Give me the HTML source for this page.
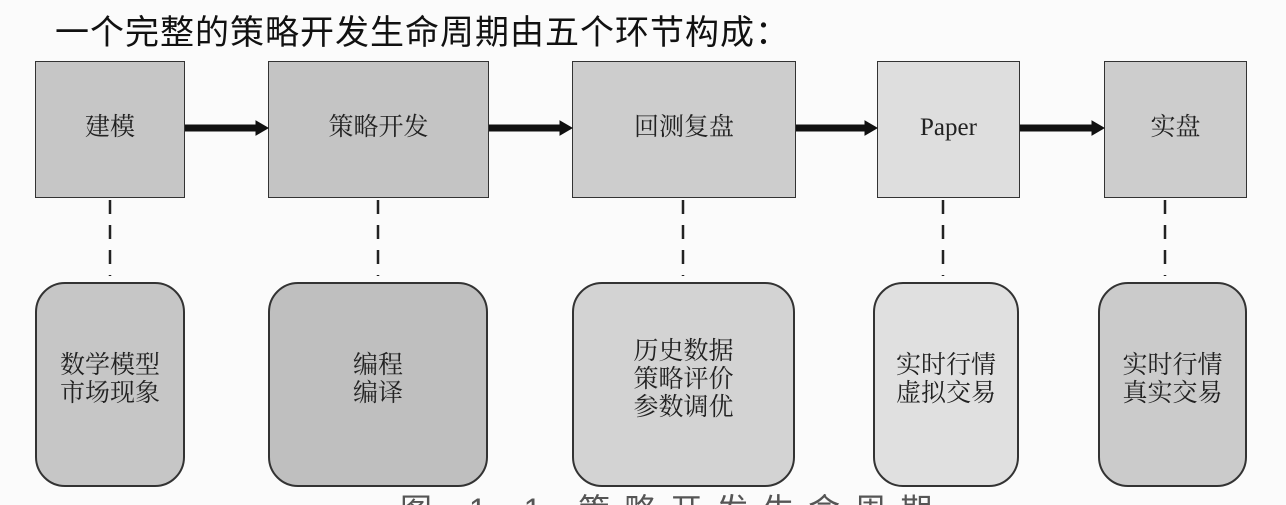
<!DOCTYPE html>
<html style="margin:0;width:1286px;height:505px;overflow:hidden"><head><meta charset="utf-8"><style>
body{margin:0;width:1286px;height:505px;background:#fbfbfb;position:relative;overflow:hidden;font-family:"Liberation Serif","Noto Serif CJK SC",serif;}
.t{position:absolute;left:55px;top:5px;font-family:"Liberation Sans","Noto Sans CJK SC",sans-serif;font-size:34px;color:#111;letter-spacing:1px;font-weight:400}
.b{position:absolute;border:1.5px solid #333;box-sizing:border-box;display:flex;align-items:center;justify-content:center;font-size:25px;color:#222;text-align:center;line-height:28px}
.top{top:61px;height:137px;padding-bottom:4px}
.r{top:282px;height:205px;border-radius:30px;border-width:2px}
.cap{position:absolute;left:400px;top:494px;height:11px;overflow:hidden;font-size:32px;line-height:32px;color:#555;font-family:"Liberation Sans","Noto Sans CJK SC",sans-serif;letter-spacing:14px;white-space:nowrap}
</style></head><body>
<div class="t">一个完整的策略开发生命周期由五个环节构成：</div>
<div class="b top" style="left:35px;width:150px;background:#c6c6c6">建模</div>
<div class="b top" style="left:268px;width:221px;background:#c4c4c4">策略开发</div>
<div class="b top" style="left:572px;width:224px;background:#cdcdcd">回测复盘</div>
<div class="b top" style="left:877px;width:143px;background:#dedede">Paper</div>
<div class="b top" style="left:1104px;width:143px;background:#cdcdcd">实盘</div>
<svg style="position:absolute;left:0;top:0" width="1286" height="505">
<g fill="#111" stroke="#111">
<line x1="185" y1="128" x2="258" y2="128" stroke-width="7"/><polygon points="256,121 268,128 256,135" />
<line x1="489" y1="128" x2="562" y2="128" stroke-width="7"/><polygon points="560,121 572,128 560,135" />
<line x1="796" y1="128" x2="867" y2="128" stroke-width="7"/><polygon points="865,121 877,128 865,135" />
<line x1="1020" y1="128" x2="1094" y2="128" stroke-width="7"/><polygon points="1092,121 1104,128 1092,135" />
</g>
<g stroke="#222" stroke-width="2.5" stroke-dasharray="14,11">
<line x1="110" y1="200" x2="110" y2="276"/>
<line x1="378" y1="200" x2="378" y2="276"/>
<line x1="683" y1="200" x2="683" y2="276"/>
<line x1="943" y1="200" x2="943" y2="276"/>
<line x1="1165" y1="200" x2="1165" y2="276"/>
</g></svg>
<div class="b r" style="left:35px;width:150px;background:#c6c6c6;padding-bottom:10px">数学模型<br>市场现象</div>
<div class="b r" style="left:268px;width:220px;background:#bfbfbf;padding-bottom:10px">编程<br>编译</div>
<div class="b r" style="left:572px;width:223px;background:#d3d3d3;padding-bottom:10px">历史数据<br>策略评价<br>参数调优</div>
<div class="b r" style="left:873px;width:146px;background:#e0e0e0;padding-bottom:10px">实时行情<br>虚拟交易</div>
<div class="b r" style="left:1098px;width:149px;background:#cbcbcb;padding-bottom:10px">实时行情<br>真实交易</div>
<div class="cap">图 1.1 策略开发生命周期</div>
</body></html>
